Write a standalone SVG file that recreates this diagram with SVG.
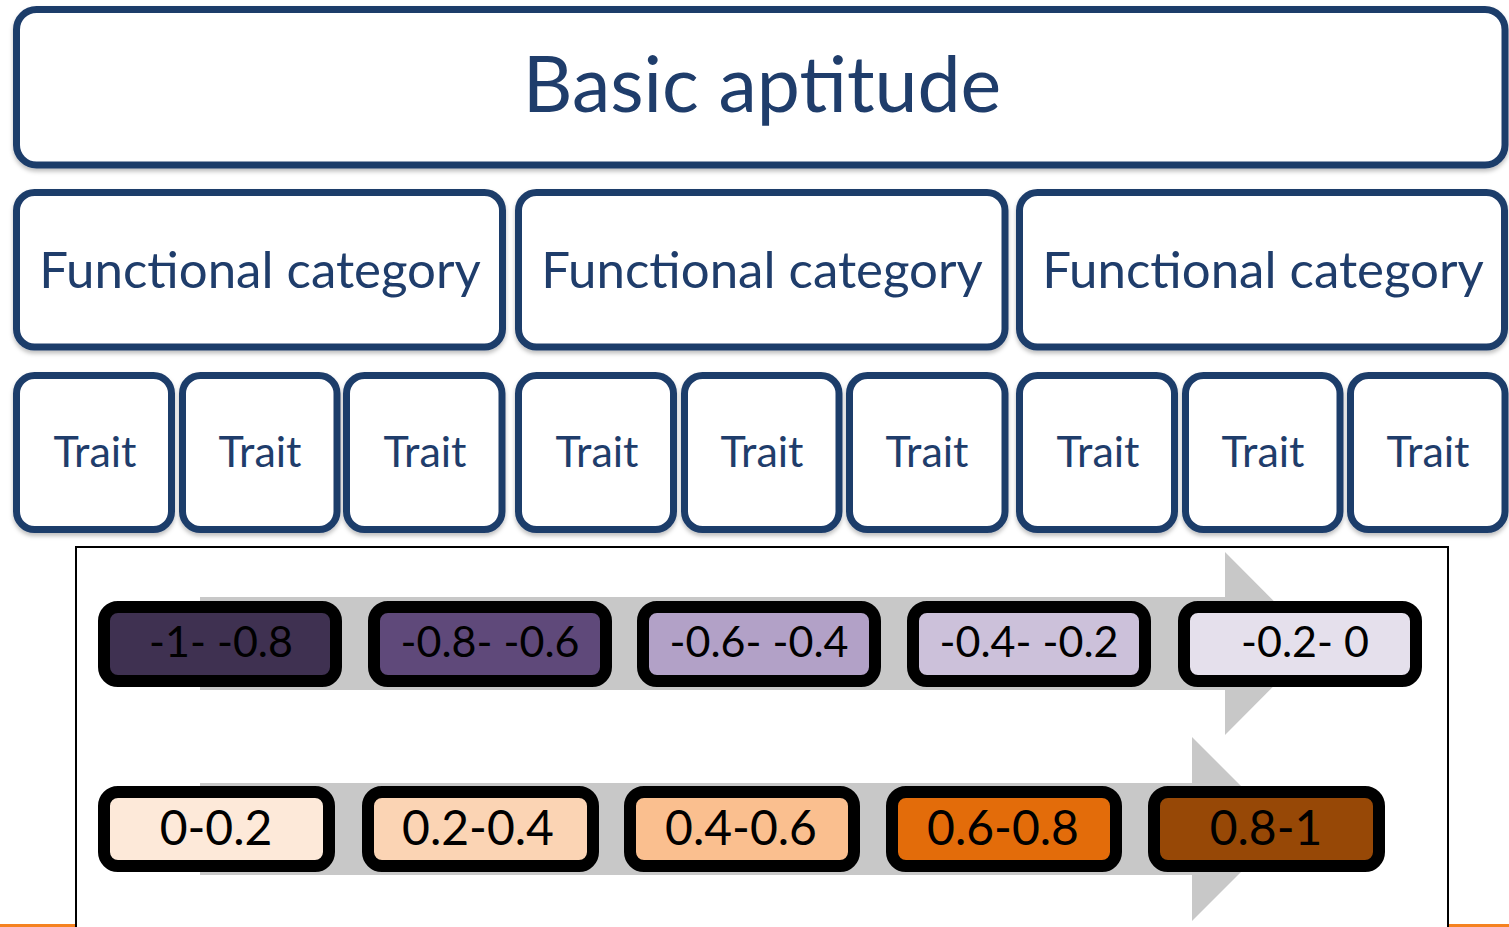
<svg xmlns="http://www.w3.org/2000/svg" width="1509" height="927" viewBox="0 0 1509 927">
  <defs>
    <filter id="soft" x="-5%" y="-5%" width="110%" height="120%">
      <feDropShadow dx="0" dy="3" stdDeviation="2" flood-color="#000" flood-opacity="0.25"/>
    </filter>
    <style>
      .bluebox { fill: #ffffff; stroke: #1f3d6b; stroke-width: 7; filter: url(#soft); }
      .bluetext { font-family: Lato, "Liberation Sans", sans-serif; fill: #1f3d6b; text-anchor: middle; }
      .title { font-size: 77px; }
      .cat { font-size: 51px; }
      .trait { font-size: 43px; }
      .band { fill: #c8c8c8; }
      .range { stroke: #000000; stroke-width: 12; }
      .rangetext { font-family: Lato, "Liberation Sans", sans-serif; fill: #000000; text-anchor: middle; }
      .neg { font-size: 43px; }
      .pos { font-size: 48px; }
    </style>
  </defs>

  <rect width="1509" height="927" fill="#ffffff"/>

  <!-- hierarchy: aptitude, categories, traits -->
  <g id="aptitude">
    <rect class="bluebox" x="16.5" y="9.5" width="1488.5" height="155.5" rx="20"/>
    <text class="bluetext title" x="762" y="112">Basic aptitude</text>
  </g>

  <g id="category-1">
    <rect class="bluebox" x="16.5" y="192.5" width="486" height="154.5" rx="18"/>
    <text class="bluetext cat" x="260" y="288">Functional category</text>
  </g>
  <g id="category-2">
    <rect class="bluebox" x="518.5" y="192.5" width="486.5" height="154.5" rx="18"/>
    <text class="bluetext cat" x="762" y="288">Functional category</text>
  </g>
  <g id="category-3">
    <rect class="bluebox" x="1019.5" y="192.5" width="485" height="154.5" rx="18"/>
    <text class="bluetext cat" x="1263" y="288">Functional category</text>
  </g>

  <g id="trait-1">
    <rect class="bluebox" x="16.5" y="375.5" width="155" height="154" rx="18"/>
    <text class="bluetext trait" x="95" y="467">Trait</text>
  </g>
  <g id="trait-2">
    <rect class="bluebox" x="182.5" y="375.5" width="154.5" height="154" rx="18"/>
    <text class="bluetext trait" x="260" y="467">Trait</text>
  </g>
  <g id="trait-3">
    <rect class="bluebox" x="346.5" y="375.5" width="155.5" height="154" rx="18"/>
    <text class="bluetext trait" x="425" y="467">Trait</text>
  </g>
  <g id="trait-4">
    <rect class="bluebox" x="518.5" y="375.5" width="155" height="154" rx="18"/>
    <text class="bluetext trait" x="597" y="467">Trait</text>
  </g>
  <g id="trait-5">
    <rect class="bluebox" x="684.5" y="375.5" width="154.5" height="154" rx="18"/>
    <text class="bluetext trait" x="762" y="467">Trait</text>
  </g>
  <g id="trait-6">
    <rect class="bluebox" x="849.5" y="375.5" width="155.5" height="154" rx="18"/>
    <text class="bluetext trait" x="927" y="467">Trait</text>
  </g>
  <g id="trait-7">
    <rect class="bluebox" x="1019.5" y="375.5" width="155" height="154" rx="18"/>
    <text class="bluetext trait" x="1098" y="467">Trait</text>
  </g>
  <g id="trait-8">
    <rect class="bluebox" x="1185.5" y="375.5" width="154.5" height="154" rx="18"/>
    <text class="bluetext trait" x="1263" y="467">Trait</text>
  </g>
  <g id="trait-9">
    <rect class="bluebox" x="1350.5" y="375.5" width="154.5" height="154" rx="18"/>
    <text class="bluetext trait" x="1428" y="467">Trait</text>
  </g>

  <!-- orange rule along the bottom edge -->
  <rect x="0" y="924" width="1509" height="3" fill="#f58220"/>

  <!-- legend panel -->
  <g id="legend">
    <rect x="76" y="547" width="1372" height="400" fill="#ffffff" stroke="#000000" stroke-width="2"/>
  </g>

  <!-- gradient arrows behind the range boxes -->
  <g id="connectors">
    <polygon class="band" points="200,597 1225,597 1225,552 1316,643.5 1225,735 1225,690 200,690"/>
    <polygon class="band" points="200,783 1192,783 1192,737 1284,829 1192,921 1192,875 200,875"/>
  </g>

  <!-- negative ranges -->
  <g id="neg-1">
    <rect class="range" x="104" y="607" width="232" height="74" rx="14" fill="#3f3151"/>
    <text class="rangetext neg" x="221" y="657">-1- -0.8</text>
  </g>
  <g id="neg-2">
    <rect class="range" x="374" y="607" width="232" height="74" rx="14" fill="#5f497a"/>
    <text class="rangetext neg" x="490" y="657">-0.8- -0.6</text>
  </g>
  <g id="neg-3">
    <rect class="range" x="643" y="607" width="232" height="74" rx="14" fill="#b2a1c7"/>
    <text class="rangetext neg" x="759" y="657">-0.6- -0.4</text>
  </g>
  <g id="neg-4">
    <rect class="range" x="913" y="607" width="232" height="74" rx="14" fill="#ccc1da"/>
    <text class="rangetext neg" x="1029" y="657">-0.4- -0.2</text>
  </g>
  <g id="neg-5">
    <rect class="range" x="1184" y="607" width="232" height="74" rx="14" fill="#e5e0ec"/>
    <text class="rangetext neg" x="1305" y="657">-0.2- 0</text>
  </g>

  <!-- positive ranges -->
  <g id="pos-1">
    <rect class="range" x="104" y="792" width="225" height="74" rx="14" fill="#fde9d9"/>
    <text class="rangetext pos" x="216" y="845">0-0.2</text>
  </g>
  <g id="pos-2">
    <rect class="range" x="368" y="792" width="225" height="74" rx="14" fill="#fbd4b4"/>
    <text class="rangetext pos" x="478" y="845">0.2-0.4</text>
  </g>
  <g id="pos-3">
    <rect class="range" x="630" y="792" width="224" height="74" rx="14" fill="#fabf8f"/>
    <text class="rangetext pos" x="741" y="845">0.4-0.6</text>
  </g>
  <g id="pos-4">
    <rect class="range" x="892" y="792" width="224" height="74" rx="14" fill="#e36c0a"/>
    <text class="rangetext pos" x="1003" y="845">0.6-0.8</text>
  </g>
  <g id="pos-5">
    <rect class="range" x="1154" y="792" width="225" height="74" rx="14" fill="#974806"/>
    <text class="rangetext pos" x="1266" y="845">0.8-1</text>
  </g>
</svg>
